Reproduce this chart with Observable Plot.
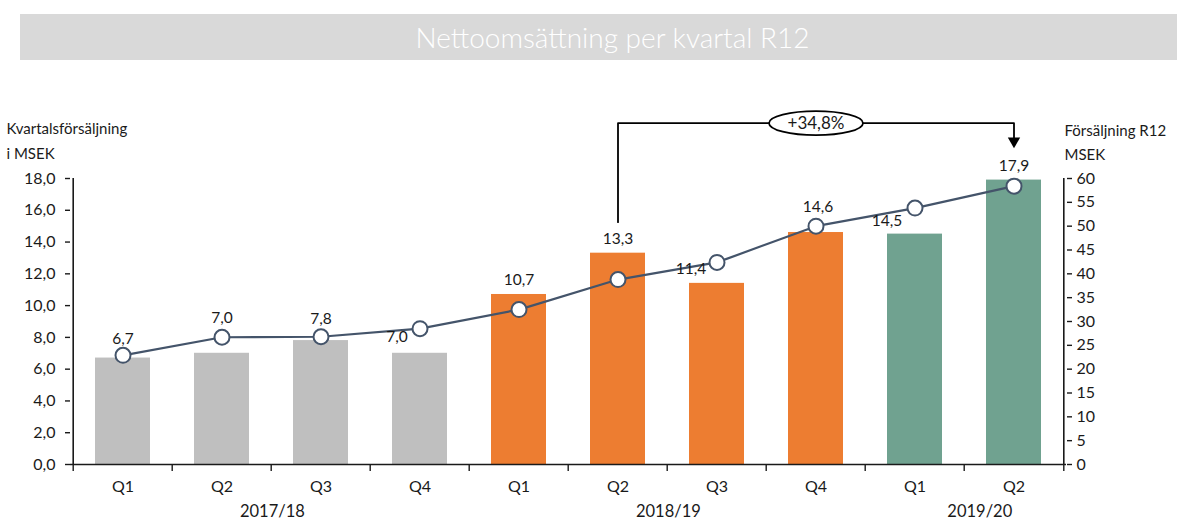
<!DOCTYPE html>
<html>
<head>
<meta charset="utf-8">
<script src="https://cdn.jsdelivr.net/npm/d3@7"></script>
<script src="https://cdn.jsdelivr.net/npm/@observablehq/plot@0.6"></script>
<style>
  html, body { margin: 0; padding: 0; background: #fff; }
  body { width: 1179px; height: 520px; overflow: hidden; font-family: Lato, "Open Sans", sans-serif; }
  #title { margin: 14px 0 0 20px; width: 1157px; height: 46px; background: #d9d9d9; color: #fff;
           font-family: Lato, sans-serif; font-weight: 300; font-size: 28px; line-height: 46px;
           text-align: center; box-sizing: border-box; padding-left: 28px; }
  #chart svg { display: block; }
</style>
</head>
<body>
<div id="title">Nettoomsättning per kvartal R12</div>
<div id="chart"></div>
<script>
// ---- data ----
const quarters = ["Q1","Q2","Q3","Q4","Q1","Q2","Q3","Q4","Q1","Q2"];
const years = ["2017/18","2017/18","2017/18","2017/18","2018/19","2018/19","2018/19","2018/19","2019/20","2019/20"];
const fiscalYears = ["2017/18","2018/19","2019/20"];
const sales = [6.7, 7.0, 7.8, 7.0, 10.7, 13.3, 11.4, 14.6, 14.5, 17.9];   // Kvartalsförsäljning MSEK
const r12 = [22.9, 26.7, 26.8, 28.5, 32.5, 38.8, 42.4, 50.0, 53.8, 58.4]; // Försäljning R12 MSEK
const leftTicks = [0, 2, 4, 6, 8, 10, 12, 14, 16, 18];
const rightTicks = [0, 5, 10, 15, 20, 25, 30, 35, 40, 45, 50, 55, 60];
const growthLabel = "+34,8%";

// ---- layout / style ----
const W = 1179, H = 460, ML = 70, MR = 113, MT = 118, MB = 56;
const step = (W - ML - MR) / quarters.length;
const yMax = 18, rMax = 60, ratio = yMax / rMax;
const pxPerUnit = (H - MT - MB) / yMax;
const yearColor = {"2017/18": "#bfbfbf", "2018/19": "#ed7d31", "2019/20": "#70a290"};
const lineColor = "#44546a";
const ink = "#1a1a1a";
const font = "Lato, 'Open Sans', sans-serif";
const labelDx = [0, 0, 0, -23, 0, 0, -26, 2, -28, 0];
const labelDy = [-19, -35, -22, -16, -14, -14, -14, -25, -13, -14];
const yearDx = [0, 0, 15];

const comma = v => d3.format(".1f")(v).replace(".", ",");
const keys = quarters.map((q, i) => years[i] + " " + q);
const rows = keys.map((k, i) => ({key: k, q: quarters[i], year: years[i], sales: sales[i], r12: r12[i]}));
const px = p => p / pxPerUnit; // pixel distance -> y units

// annotation geometry (in y units)
const fromIdx = 5, toIdx = 9;
const annY = sales[fromIdx] + px(130);
const annStart = sales[fromIdx] + px(31);
const arrowTipY = sales[toIdx] + px(32);

const ellipseSymbol = {
  draw(ctx) {
    const rx = 47, ry = 12, k = 0.5523;
    ctx.moveTo(rx, 0);
    ctx.bezierCurveTo(rx, ry * k, rx * k, ry, 0, ry);
    ctx.bezierCurveTo(-rx * k, ry, -rx, ry * k, -rx, 0);
    ctx.bezierCurveTo(-rx, -ry * k, -rx * k, -ry, 0, -ry);
    ctx.bezierCurveTo(rx * k, -ry, rx, -ry * k, rx, 0);
    ctx.closePath();
  }
};

const marks = [
  // bars
  Plot.barY(rows, {x: "key", y: "sales", fill: d => yearColor[d.year]}),
  // axes lines
  Plot.ruleY([0], {stroke: ink, strokeWidth: 1.6}),
  Plot.ruleX([keys[0]], {dx: -step / 2, y1: 0, y2: yMax, stroke: ink, strokeWidth: 1.6}),
  Plot.ruleX([keys[keys.length - 1]], {dx: step / 2, y1: 0, y2: yMax, stroke: ink, strokeWidth: 1.6}),
  // bottom tick marks at category boundaries
  Plot.ruleX(keys, {x: d => d, dx: -step / 2, y1: 0, y2: -px(7), stroke: ink, strokeWidth: 1.4}),
  Plot.ruleX([keys[keys.length - 1]], {dx: step / 2, y1: 0, y2: -px(7), stroke: ink, strokeWidth: 1.4}),
  // left axis
  Plot.axisY(leftTicks, {anchor: "left", label: null, tickSize: 5, tickPadding: 10, tickFormat: comma,
    fontSize: 16, fontFamily: font, color: ink, strokeWidth: 1.4}),
  // right axis (R12)
  Plot.axisY(rightTicks.map(v => v * yMax / rMax), {anchor: "right", label: null, tickSize: 5, tickPadding: 5,
    tickFormat: v => String(Math.round(v * rMax / yMax)), fontSize: 16, fontFamily: font, color: ink, strokeWidth: 1.4}),
  // quarter labels
  Plot.text(rows, {x: "key", y: 0, dy: 22, text: "q", fontSize: 16, fontFamily: font, fill: ink}),
  // fiscal year labels
  ...fiscalYears.map((fy, j) => {
    const idx = years.map((y, i) => y === fy ? i : -1).filter(i => i >= 0);
    const first = idx[0], last = idx[idx.length - 1];
    return Plot.text([fy], {x: () => keys[first], y: 0, dy: 47, dx: (last - first) / 2 * step + yearDx[j],
      text: d => d, fontSize: 16.5, fontFamily: font, fill: ink});
  }),
  // R12 line
  Plot.line(rows, {x: "key", y: d => d.r12 * ratio, stroke: lineColor, strokeWidth: 2.2}),
  Plot.dot(rows, {x: "key", y: d => d.r12 * ratio, r: 7.5, fill: "#fff", stroke: lineColor, strokeWidth: 2}),
  // value labels
  ...rows.map((d, i) => Plot.text([d], {x: "key", y: "sales", dx: labelDx[i], dy: labelDy[i],
    text: v => comma(v.sales), fontSize: 15.5, fontFamily: font, fill: ink})),
  // growth annotation
  Plot.line([[keys[fromIdx], annStart], [keys[fromIdx], annY], [keys[toIdx], annY], [keys[toIdx], arrowTipY + px(8)]],
    {x: d => d[0], y: d => d[1], stroke: "#000", strokeWidth: 1.8}),
  Plot.dot([keys[toIdx]], {x: d => d, y: arrowTipY + px(7), symbol: "triangle", r: 4.6, rotate: 180, fill: "#000", stroke: "none"}),
  Plot.dot([keys[7]], {x: d => d, y: annY, symbol: ellipseSymbol, r: 5, fill: "#fff", stroke: "#000", strokeWidth: 1.8}),
  Plot.text([growthLabel], {x: () => keys[7], y: annY, text: d => d, fontSize: 17, fontFamily: font, fill: ink}),
  // axis titles
  Plot.text(["Kvartalsförsäljning\ni MSEK"], {frameAnchor: "top-left", dx: -64, dy: -40, text: d => d,
    textAnchor: "start", lineAnchor: "middle", lineHeight: 1.7, fontSize: 15, fontFamily: font, fill: ink}),
  Plot.text(["Försäljning R12\nMSEK"], {frameAnchor: "top-right", dx: -2, dy: -38, text: d => d,
    textAnchor: "start", lineAnchor: "middle", lineHeight: 1.55, fontSize: 15, fontFamily: font, fill: ink})
];

const chart = Plot.plot({
  width: W, height: H,
  marginLeft: ML, marginRight: MR, marginTop: MT, marginBottom: MB,
  style: {fontFamily: font, background: "#fff", overflow: "visible"},
  x: {domain: keys, paddingInner: 0.44, paddingOuter: 0.22, axis: null},
  y: {domain: [0, yMax], axis: null},
  marks
});
document.getElementById("chart").appendChild(chart);
</script>
</body>
</html>
